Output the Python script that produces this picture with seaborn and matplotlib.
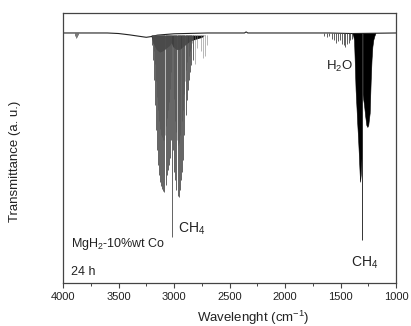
import numpy as np
import pandas as pd
import matplotlib
matplotlib.use("Agg")
import matplotlib.pyplot as plt
from matplotlib.ticker import MultipleLocator
import seaborn as sns

# ---------------- data ----------------
# smooth baseline of the spectrum
base_wn = [4000, 3800, 3600, 3500, 3400, 3300, 3250, 3200, 3150, 3000, 2800, 2700,
           2500, 2365, 2350, 2335, 2200, 2000, 1800, 1600, 1400, 1200, 1000]
base_T = [92.6, 92.6, 92.6, 92.4, 91.9, 91.3, 91.0, 91.3, 91.8, 92.3, 92.5, 92.6,
          92.6, 92.6, 93.0, 92.6, 92.6, 92.6, 92.6, 92.6, 92.4, 92.5, 92.6]

# small features near 3880 cm-1
small_wn = [3890, 3880, 3870, 3862]
small_T = [91.4, 90.8, 91.0, 91.8]

# CH4 stretching band: main rotational lines (R branch, Q, P branch)
ch4a_wn = [3198, 3189, 3180, 3171, 3162, 3152, 3143, 3133, 3124, 3114, 3105, 3095,
           3086, 3076, 3067, 3057, 3048, 3038, 3028, 3018,
           3009, 2998, 2988, 2978, 2968, 2958, 2948, 2938, 2927, 2917, 2906, 2896,
           2885, 2875, 2864, 2854, 2844, 2833]
ch4a_T = [88.0, 82.6, 75.2, 65.9, 56.7, 49.3, 43.7, 40.0, 37.4, 35.9, 34.8, 34.1,
          33.7, 36.3, 40.0, 41.9, 43.7, 46.3, 53.0, 17.0,
          49.3, 41.1, 38.1, 34.4, 32.2, 31.9, 34.4, 38.1, 41.1, 45.6, 54.8, 62.2,
          67.8, 71.5, 75.2, 78.1, 80.7, 82.6]

# weaker lines in between
ch4b_wn = [3193, 3184, 3175, 3166, 3157, 3148, 3138, 3128, 3119, 3110, 3100, 3090,
           3081, 3071, 3062, 3052, 3043, 3033, 3023,
           3004, 2993, 2983, 2973, 2963, 2953, 2943, 2932, 2922, 2911, 2901, 2890,
           2880, 2869, 2859, 2849, 2838, 2815, 2790, 2760, 2743, 2725, 2705]
ch4b_T = [89, 86, 81, 75, 69, 64, 60, 57, 55, 54, 53, 53,
          55, 58, 61, 64, 67, 72, 78,
          68, 60, 56, 53, 51, 52, 55, 60, 64, 70, 75, 79,
          82, 84, 86, 87, 89, 81, 87, 86, 83.5, 84, 88]

# dense fine structure at the top of the CH4 stretching band
dense_wn = [3210, 3190, 3160, 3130, 3100, 3070, 3040, 3025, 3010, 2980, 2950,
            2920, 2890, 2860, 2830, 2790, 2750, 2720]
dense_T = [92.0, 89.0, 86.5, 85.5, 86.0, 87.0, 88.0, 89.0, 87.5, 86.5, 86.5,
           87.5, 88.5, 89.5, 90.0, 90.5, 91.0, 92.0]

# water lines
h2o_wn = [1650, 1625, 1600, 1575, 1558, 1540, 1522, 1508, 1490, 1472, 1457, 1440,
          1425, 1410, 1395]
h2o_T = [91.5, 91.0, 91.3, 90.5, 90.0, 88.9, 89.5, 90.0, 88.5, 88.0, 87.5, 88.5,
         89.0, 90.0, 90.5]

# CH4 bending band: R branch envelope, Q line, P branch envelope
r2_wn = [1395, 1385, 1378, 1371, 1364, 1356, 1349, 1341, 1334, 1328, 1324, 1318,
         1312, 1307]
r2_T = [92.6, 91.5, 90.0, 81.0, 71.5, 65.0, 59.0, 53.0, 46.8, 41.0, 37.5, 40.0,
        45.0, 50.0]
q2_wn = [1303]
q2_T = [15.9]
p2_wn = [1300, 1295, 1288, 1278, 1267, 1258, 1250, 1243, 1237, 1228, 1220, 1213,
         1205, 1195, 1185]
p2_T = [70, 68, 66, 62, 58.5, 57.8, 58.5, 61, 63, 75, 83, 87.5, 90, 91.5, 92.6]

xticks = [4000, 3500, 3000, 2500, 2000, 1500, 1000]

# ---------------- style ----------------
sns.set_theme(style="white")
plt.rcParams["font.family"] = ["Liberation Sans", "DejaVu Sans"]
plt.rcParams["mathtext.fontset"] = "custom"
plt.rcParams["mathtext.rm"] = "Liberation Sans"
plt.rcParams["mathtext.it"] = "Liberation Sans:italic"
plt.rcParams["mathtext.default"] = "regular"

fig = plt.figure(figsize=(4.11, 3.26), dpi=100)
fig.patch.set_facecolor("white")
ax = fig.add_axes([63 / 411, (326 - 283) / 326, (396 - 63) / 411, (283 - 13) / 326])
ax.set_facecolor("white")

base_df = pd.DataFrame({"wn": base_wn, "T": base_T})
sns.lineplot(data=base_df, x="wn", y="T", ax=ax, color="#222222", lw=0.8)

ax.vlines(small_wn, small_T, 92.6, color="#444444", lw=0.5)
ax.vlines(ch4b_wn, ch4b_T, 91.8, color="#808080", lw=0.4)
ax.vlines(ch4a_wn, ch4a_T, 91.8, color="#4a4a4a", lw=0.6)
ax.fill_between(dense_wn, dense_T, 91.8, color="#111111", lw=0)
ax.vlines(h2o_wn, h2o_T, 92.6, color="#444444", lw=0.6)
ax.fill_between(r2_wn, r2_T, 92.6, color="black", lw=0.4)
ax.fill_between(p2_wn, p2_T, 92.6, color="black", lw=0.4)
ax.vlines(q2_wn, q2_T, 92.6, color="#333333", lw=0.7)

ax.set_xlim(4000, 1000)
ax.set_ylim(0, 100)
ax.set_xticks(xticks)
ax.set_xticklabels([str(t) for t in xticks])
ax.xaxis.set_minor_locator(MultipleLocator(250))
ax.set_yticks([])

for s in ax.spines.values():
    s.set_visible(True)
    s.set_color("#444444")
    s.set_linewidth(0.9)

ax.tick_params(axis="x", which="major", direction="out", length=3.5, width=0.8,
               color="#444444", labelsize=8, labelcolor="#222222", pad=3,
               bottom=True, top=False)
ax.tick_params(axis="x", which="minor", direction="out", length=2, width=0.7,
               color="#444444", bottom=True, top=False)

ax.set_xlabel("Wavelenght (cm$^{-1}$)", fontsize=9.5, color="#222222")
ax.set_ylabel("Transmittance (a. u.)", fontsize=9.5, color="#222222")
ax.xaxis.set_label_coords(0.571, -0.095)
ax.yaxis.set_label_coords(-0.125, 0.452)

tc = "#222222"
ax.text(2964, 18.5, "CH$_4$", fontsize=10, color=tc, ha="left", va="baseline")
ax.text(3928, 13.3, "MgH$_2$-10%wt Co", fontsize=9, color=tc, ha="left", va="baseline")
ax.text(3928, 3.0, "24 h", fontsize=9, color=tc, ha="left", va="baseline")
ax.text(1631, 78.9, "H$_2$O", fontsize=9.5, color=tc, ha="left", va="baseline")
ax.text(1405, 5.9, "CH$_4$", fontsize=10, color=tc, ha="left", va="baseline")

fig.savefig("out.png", dpi=100, facecolor="white")
